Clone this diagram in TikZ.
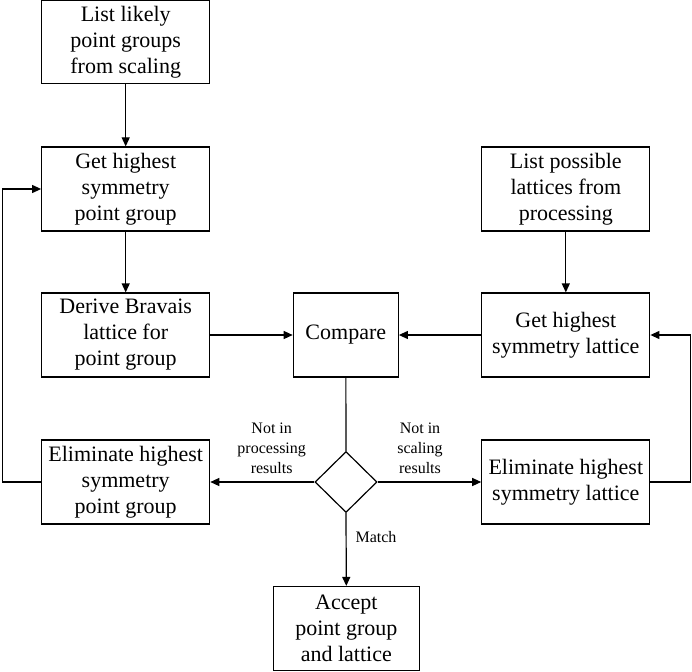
\documentclass[tikz,border=0pt]{standalone}
\usepackage{fontspec}
\setmainfont{Liberation Serif}
\usetikzlibrary{arrows.meta,shapes.geometric}

\begin{document}
\begin{tikzpicture}[x=1pt,y=-1pt,line width=1.2pt,
    stepbox/.style={draw,rectangle,align=center,inner sep=0pt,
      font=\fontsize{22}{26}\selectfont},
    decision/.style={draw,diamond,inner sep=0pt,minimum width=62pt,minimum height=61pt},
    lbl/.style={align=center,font=\fontsize{16}{20}\selectfont},
    >={Triangle[length=9pt,width=8pt]}]
      \useasboundingbox (0,0) rectangle (692,671);

      % left column
      \node[stepbox,minimum width=168pt,minimum height=83pt](list1) at (125.7,42)
        {List likely\\point groups\\from scaling};
      \node[stepbox,minimum width=168pt,minimum height=84pt](get1) at (125.7,189)
        {Get highest\\symmetry\\point group};
      \node[stepbox,minimum width=168pt,minimum height=84pt](derive) at (125.7,335)
        {Derive Bravais\\lattice for\\point group};
      \node[stepbox,minimum width=168pt,minimum height=84pt](elim1) at (125.7,482)
        {Eliminate highest\\symmetry\\point group};

      % middle column
      \node[stepbox,minimum width=105pt,minimum height=84pt](compare) at (345.8,335)
        {Compare};
      \node[decision](dec) at (346,482){};
      \node[stepbox,minimum width=146pt,minimum height=84pt](accept) at (346.3,628.5)
        {Accept\\point group\\and lattice};

      % right column
      \node[stepbox,minimum width=168pt,minimum height=84pt](list2) at (565.8,189)
        {List possible\\lattices from\\processing};
      \node[stepbox,minimum width=168pt,minimum height=84pt](get2) at (565.8,335)
        {Get highest\\symmetry lattice};
      \node[stepbox,minimum width=168pt,minimum height=84pt](elim2) at (565.8,482)
        {Eliminate highest\\symmetry lattice};

      % labels
      \node[lbl](notproc) at (271.7,448){Not in\\processing\\results};
      \node[lbl](notscal) at (420,448){Not in\\scaling\\results};
      \node[lbl](match) at (376,537){Match};

      % connectors
      \draw[->] (list1) -- (get1);
      \draw[->] (get1) -- (derive);
      \draw[->] (derive) -- (compare);
      \draw[->] (list2) -- (get2);
      \draw[->] (get2) -- (compare);
      \draw (compare) -- (dec);
      \draw[->] (dec.west) -- (elim1.east);
      \draw[->] (dec.east) -- (elim2.west);
      \draw[->] (dec.south) -- (accept.north);
      \coordinate (lturn) at (2.3,482);
      \coordinate (rturn) at (690.5,482);
      \draw[->] (elim1.west) -- (lturn) |- (get1.west);
      \draw[->] (elim2.east) -- (rturn) |- (get2.east);
    \end{tikzpicture}
\end{document}
